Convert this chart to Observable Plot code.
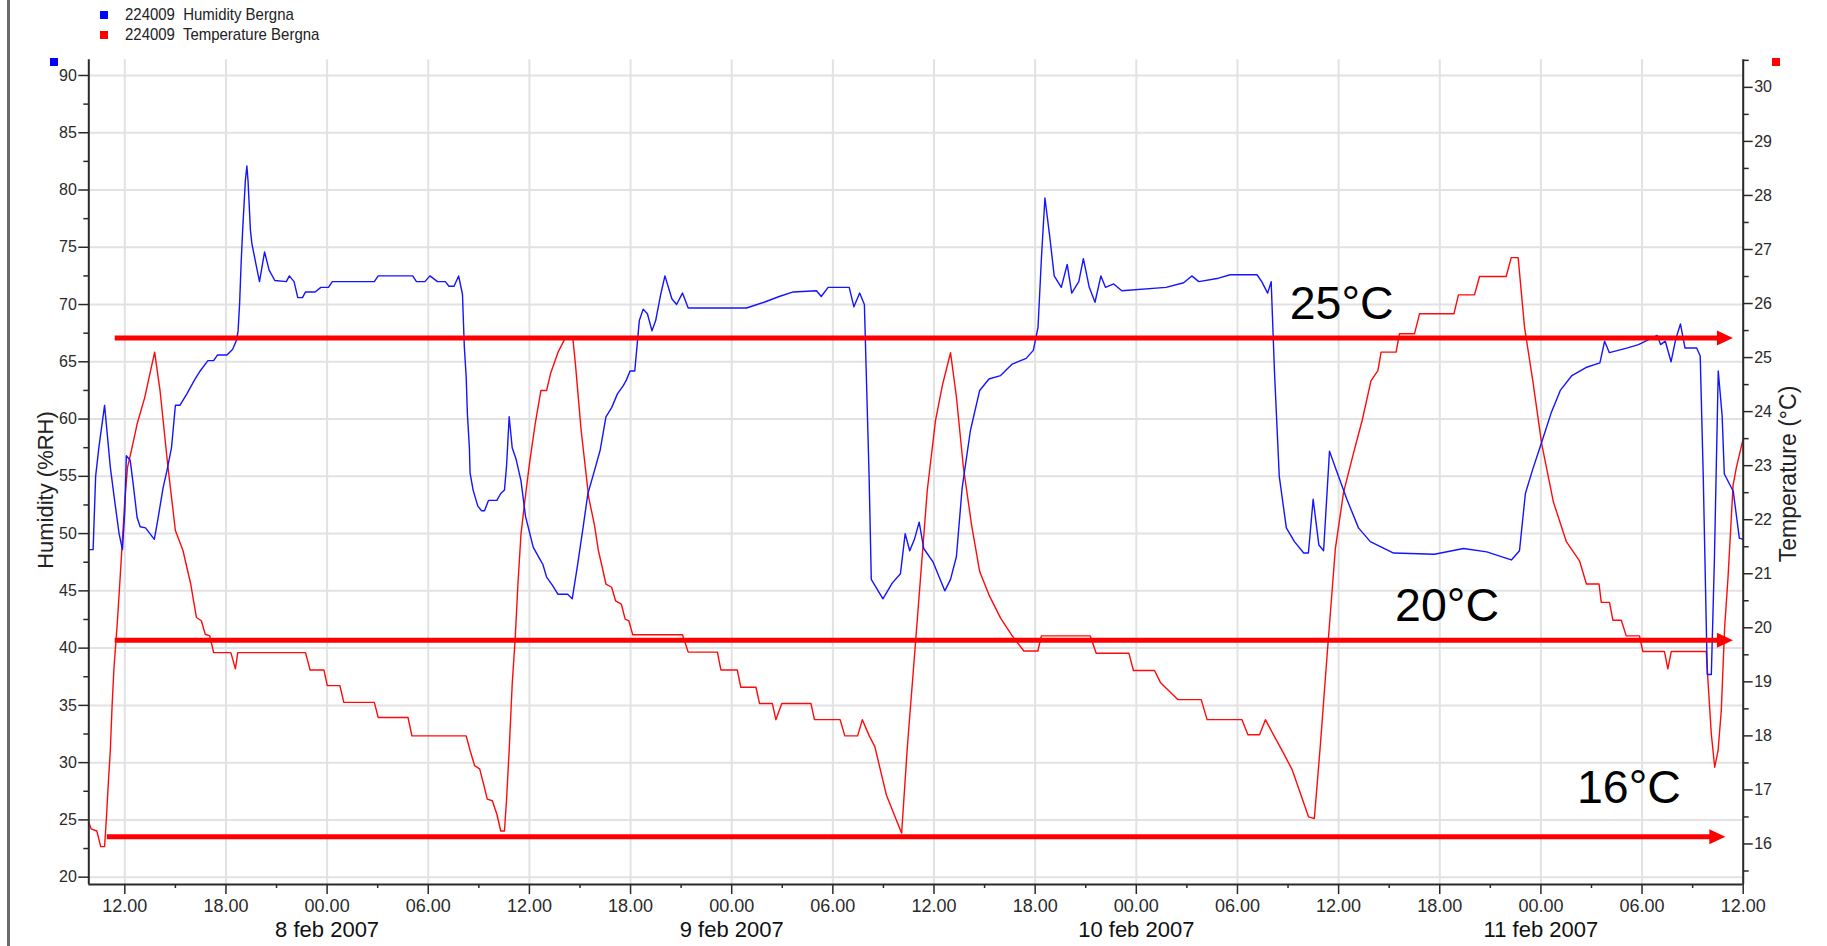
<!DOCTYPE html>
<html><head><meta charset="utf-8">
<script src="https://cdn.jsdelivr.net/npm/d3@7"></script>
<script src="https://cdn.jsdelivr.net/npm/@observablehq/plot@0.6"></script>
<style>
html,body{margin:0;padding:0;background:#fff}
body{width:1827px;height:946px;overflow:hidden;position:relative;font-family:"Liberation Sans",Arial,sans-serif}
#chart{position:absolute;left:0;top:0}
#border{position:absolute;left:7px;top:0;width:3px;height:946px;background:#6a6a6a}
.leg{position:absolute;left:100px;height:20px;display:flex;align-items:center;white-space:pre;font-size:17px;color:#222}
.leg .sw{display:inline-block;width:8px;height:8px;margin-right:17px}
.leg .lt{display:inline-block;transform:scaleX(0.88);transform-origin:left center}
.mk{position:absolute;width:8px;height:8px}
.ytitle{position:absolute;white-space:nowrap;color:#222;transform:translate(-50%,-50%) rotate(-90deg);line-height:1}
</style></head><body>
<div id="border"></div>
<div class="leg" style="top:5px"><span class="sw" style="background:#0000ff"></span><span class="lt">224009  Humidity Bergna</span></div>
<div class="leg" style="top:25px"><span class="sw" style="background:#ff0000"></span><span class="lt">224009  Temperature Bergna</span></div>
<div class="mk" style="left:50px;top:58px;background:#0000ff"></div>
<div class="mk" style="left:1772px;top:58px;background:#ff0000"></div>
<div id="chart"></div>
<div class="ytitle" style="left:46px;top:490px;font-size:22px">Humidity (%RH)</div>
<div class="ytitle" style="left:1788px;top:474px;font-size:23px">Temperature (°C)</div>
<script>
// ---- data (time = hours since 7 feb 2007 00:00) ----
const humHours = [9.86,10.12,10.27,10.46,10.80,11.14,11.36,11.66,11.86,12.0,12.09,12.32,12.5,12.73,12.91,13.23,13.75,13.98,14.27,14.5,14.77,15.0,15.27,15.68,16.13,16.47,16.93,17.27,17.5,18.06,18.4,18.63,18.72,18.81,18.9,18.99,19.15,19.24,19.31,19.45,19.54,19.77,19.99,20.29,20.56,20.9,21.58,21.76,22.04,22.26,22.54,22.72,23.29,23.63,24.08,24.31,26.8,27.03,29.08,29.3,29.8,30.1,30.55,31.01,31.23,31.53,31.8,32.03,32.07,32.14,32.25,32.32,32.44,32.48,32.66,32.94,33.16,33.34,33.57,34.07,34.3,34.52,34.64,34.8,34.98,35.21,35.5,35.77,36.23,36.57,36.8,37.02,37.36,37.7,38.27,38.54,38.84,39.18,39.47,39.86,40.2,40.54,40.88,41.22,41.56,41.75,41.97,42.25,42.38,42.52,42.75,43.0,43.27,43.49,43.79,44.04,44.45,44.73,45.08,45.42,48.88,49.92,50.82,51.65,53.03,53.31,53.72,54.97,55.25,55.59,55.87,56.15,56.28,56.97,57.53,58.01,58.29,58.56,58.84,59.12,59.39,59.95,60.64,60.98,61.33,61.67,62.16,62.71,63.26,63.95,64.64,65.47,65.89,66.17,66.37,66.58,66.86,67.13,67.55,67.9,68.17,68.59,68.86,69.21,69.55,69.9,70.17,70.66,71.14,73.77,74.81,75.29,75.71,76.88,77.57,79.16,79.44,79.79,80.0,80.2,80.48,80.9,81.38,81.93,82.21,82.49,82.83,83.11,83.46,83.87,84.49,85.18,85.88,86.57,87.26,89.68,91.41,92.79,93.83,94.25,94.73,95.08,95.49,96.05,96.6,97.15,97.84,98.67,99.5,99.78,100.06,101.09,101.79,102.48,102.9,103.1,103.38,103.72,104.0,104.28,104.55,105.24,105.45,105.63,105.87,106.11,106.29,106.52,106.75,106.88,107.41,107.77,108];
const humValues = [48.6,48.6,55,57.5,61.2,55.8,53.3,50,48.6,52,56.8,56.4,54.3,51.4,50.6,50.5,49.5,51.4,54,55.5,57.5,61.2,61.2,62.2,63.4,64.2,65.1,65.1,65.6,65.6,66.1,66.9,67.7,70.1,73.6,76.5,80.8,82.1,80.8,76.5,75.3,73.6,72.0,74.6,73.0,72.1,72.0,72.5,72.0,70.6,70.6,71.1,71.1,71.5,71.5,72.0,72.0,72.5,72.5,72.0,72.0,72.5,72.0,72.0,71.6,71.6,72.5,70.9,69.2,66.3,63.7,60.5,57.5,55.3,53.8,52.4,52.0,52.0,52.9,52.9,53.5,53.8,55.8,60.2,57.5,56.5,54.6,51.5,48.8,47.9,47.3,46.2,45.5,44.7,44.7,44.3,47.1,50.5,53.5,55.5,57.3,60.2,61.0,62.2,62.9,63.4,64.2,64.2,66.3,68.6,69.6,69.2,67.7,68.6,70.9,72.5,70.5,70.0,71.0,69.7,69.7,70.2,70.7,71.1,71.2,70.7,71.5,71.5,69.8,71.0,70.0,55,46.0,44.3,45.7,46.5,50.0,48.5,49.5,51.0,48.7,47.5,45.0,46.0,48.0,54.0,59.0,62.5,63.5,63.8,64.8,65.3,66.0,68.0,74.0,79.3,76.0,72.5,71.5,73.5,71.0,72.0,74.0,71.5,70.2,72.5,71.5,71.8,71.2,71.5,71.9,72.5,72.0,72.3,72.6,72.6,72.0,71.0,72.0,64.0,55.0,50.5,49.3,48.3,48.3,53.0,49.0,48.5,57.2,55.5,53.0,50.5,49.3,48.8,48.3,48.2,48.7,48.4,47.9,47.7,48.5,53.5,55.5,58.0,60.5,62.5,63.8,64.5,64.9,66.8,65.8,66.2,66.5,67.0,67.3,66.5,66.8,65.0,67.0,68.3,66.2,66.2,65.5,55,37.7,37.7,47.6,64.2,60.3,55.2,53.7,49.6,49.5];

const tempHours = [9.86,10.0,10.34,10.46,10.57,10.8,10.91,11.02,11.14,11.25,11.36,11.55,11.7,11.82,12.0,12.16,12.39,12.73,13.18,13.77,14.09,14.54,15.0,15.45,15.91,16.25,16.54,16.77,17.04,17.27,18.29,18.4,18.56,18.7,22.72,22.99,23.81,24.01,24.76,24.99,26.8,27.03,28.8,29.03,32.25,32.48,32.75,33.05,33.28,33.5,33.8,34.07,34.3,34.52,34.64,34.8,34.98,35.16,35.32,35.5,35.73,36.0,36.34,36.68,37.02,37.25,37.7,38.16,38.57,38.73,39.07,39.52,39.86,40.09,40.32,40.54,40.88,41.11,41.45,41.68,41.9,42.13,45.08,45.42,47.15,47.36,48.33,48.54,49.44,49.65,50.41,50.62,50.97,52.7,52.91,54.43,54.71,55.47,55.75,56.16,56.49,57.18,58.08,58.42,58.91,59.6,60.09,60.5,60.98,61.33,61.74,62.23,62.71,63.26,63.95,64.64,65.33,66.16,66.37,69.27,69.62,71.56,71.83,73.08,73.43,74.47,75.85,76.2,78.27,78.62,79.31,79.66,80.14,80.7,81.25,81.73,82.22,82.56,82.91,83.32,83.81,84.29,84.85,85.4,85.92,86.33,86.52,87.41,87.61,88.5,88.8,90.84,91.11,92.06,92.36,93.94,94.24,94.65,95.03,95.52,96.05,96.74,97.5,98.29,98.7,99.45,99.58,100.07,100.27,100.77,101.06,101.85,102.05,103.33,103.53,103.73,105.81,105.91,106.11,106.31,106.51,106.7,106.9,107.1,107.4,107.59,108];
const tempValues = [16.4,16.28,16.24,16.09,15.95,15.95,16.49,17.11,17.73,18.59,19.27,20.07,20.81,21.43,22.35,22.97,23.28,23.77,24.26,25.1,24.39,23.03,21.8,21.43,20.81,20.19,20.13,19.88,19.85,19.54,19.54,19.42,19.24,19.54,19.54,19.22,19.22,18.93,18.93,18.62,18.62,18.34,18.34,18.0,18.0,17.73,17.45,17.39,17.11,16.83,16.8,16.55,16.24,16.24,16.8,17.73,18.96,19.82,20.81,21.73,22.35,23.03,23.77,24.39,24.39,24.7,25.1,25.38,25.38,24.88,23.65,22.41,21.9,21.43,21.12,20.81,20.75,20.5,20.44,20.16,20.13,19.87,19.87,19.55,19.55,19.22,19.22,18.9,18.9,18.6,18.6,18.3,18.6,18.6,18.3,18.3,18.0,18.0,18.3,18.0,17.8,16.9,16.2,17.8,19.75,22.54,23.84,24.49,25.09,24.27,22.98,21.9,21.04,20.61,20.18,19.85,19.57,19.57,19.85,19.85,19.53,19.53,19.21,19.21,18.99,18.67,18.67,18.3,18.3,18.02,18.02,18.3,18.02,17.7,17.37,16.94,16.5,16.47,17.8,19.5,21.47,22.5,23.19,23.84,24.57,24.76,25.1,25.1,25.44,25.44,25.81,25.81,26.16,26.16,26.5,26.5,26.85,26.85,25.56,24.57,23.4,22.33,21.6,21.24,20.81,20.81,20.47,20.47,20.14,20.14,19.85,19.85,19.56,19.56,19.24,19.56,19.56,19.02,18.03,17.42,17.73,18.47,20.01,20.93,22.64,22.96,23.5];

// annotation arrows (temperature levels)
const arrowTemps = [25.36, 19.77, 16.135];
const arrowStartHours = [11.43, 11.43, 10.96];
const arrowTipHours = [107.39, 107.39, 106.94];
const labelTexts = ["25°C", "20°C", "16°C"];
const labelHours = [81.10, 87.35, 98.14];
const labelTemps = [25.71, 20.13, 16.76];

// axis ticks
const humTicks = [20,25,30,35,40,45,50,55,60,65,70,75,80,85,90];
const humMinorTicks = [22.5,27.5,32.5,37.5,42.5,47.5,52.5,57.5,62.5,67.5,72.5,77.5,82.5,87.5];
const tempTicks = [16,17,18,19,20,21,22,23,24,25,26,27,28,29,30];
const tempMinorTicks = [15.5,16.5,17.5,18.5,19.5,20.5,21.5,22.5,23.5,24.5,25.5,26.5,27.5,28.5,29.5,30.5];
const hourTicks = [12,18,24,30,36,42,48,54,60,66,72,78,84,90,96,102,108];
const hourMinorTicks = [15,21,27,33,39,45,51,57,63,69,75,81,87,93,99,105];
const dayHours = [24,48,72,96];
const dayLabels = ["8 feb 2007","9 feb 2007","10 feb 2007","11 feb 2007"];

// scale extents
const humDomain = [19.36, 91.37];
const tempDomain = [15.25, 30.51];
const timeDomainHours = [9.864, 108];

// ---- build ----
const t0 = Date.UTC(2007, 1, 7);
const toDate = h => new Date(t0 + h * 3600e3);
const kT = (humDomain[1] - humDomain[0]) / (tempDomain[1] - tempDomain[0]);
const toH = T => humDomain[0] + (T - tempDomain[0]) * kT;
const toT = H => tempDomain[0] + (H - humDomain[0]) / kT;

const hum = humHours.map((h, i) => ({t: toDate(h), v: humValues[i]}));
const temp = tempHours.map((h, i) => ({t: toDate(h), v: toH(tempValues[i])}));
const arrows = arrowTemps.map((T, i) => ({
  x1: toDate(arrowStartHours[i]), x2: toDate(arrowTipHours[i] - 0.55),
  tip: toDate(arrowTipHours[i]), y: toH(T)
}));
const labels = labelTexts.map((s, i) => ({t: toDate(labelHours[i]), v: toH(labelTemps[i]), s}));
const days = dayHours.map((h, i) => ({t: toDate(h), s: dayLabels[i]}));

const narrow = "'Liberation Sans Narrow','Arial Narrow','Liberation Sans',Arial,sans-serif";
const sans = "'Liberation Sans',Arial,sans-serif";
const axisColor = "#2a2a2a";

const chart = Plot.plot({
  width: 1827, height: 946,
  marginLeft: 88.3, marginRight: 84.3, marginTop: 59.3, marginBottom: 62,
  x: {type: "utc", domain: timeDomainHours.map(toDate), label: null},
  y: {domain: humDomain, label: null},
  style: {fontFamily: sans, color: axisColor, background: "transparent", overflow: "visible"},
  marks: [
    Plot.gridY(humTicks, {stroke: "#e2e2e2", strokeOpacity: 1, strokeWidth: 2}),
    Plot.gridX(hourTicks.map(toDate), {stroke: "#e2e2e2", strokeOpacity: 1, strokeWidth: 2}),
    Plot.line(temp, {x: "t", y: "v", stroke: "#ff0a0a", strokeWidth: 1.4}),
    Plot.line(hum, {x: "t", y: "v", stroke: "#1414ff", strokeWidth: 1.4}),
    Plot.ruleY(arrows, {x1: "x1", x2: "x2", y: "y", stroke: "#ff0000", strokeWidth: 5}),
    Plot.vector(arrows, {x: "tip", y: "y", rotate: 90, length: 16, shape: "spike", r: 7.5, anchor: "end", fill: "#ff0000", stroke: "none"}),
    Plot.text(labels, {x: "t", y: "v", text: "s", textAnchor: "start", lineAnchor: "bottom", fontSize: 46.5, fill: "#000", fontFamily: sans}),
    // axis lines
    Plot.ruleX([toDate(timeDomainHours[0])], {stroke: axisColor, strokeWidth: 2}),
    Plot.ruleX([toDate(timeDomainHours[1])], {stroke: axisColor, strokeWidth: 2}),
    Plot.ruleY([humDomain[0]], {stroke: axisColor, strokeWidth: 2}),
    // left axis
    Plot.axisY(humTicks, {anchor: "left", tickSize: 10, tickPadding: 2, fontSize: 16, strokeWidth: 1.5, tickFormat: d => String(d), label: null}),
    Plot.axisY(humMinorTicks, {anchor: "left", tickSize: 5, strokeWidth: 1.5, text: null, label: null}),
    // right axis (temperature)
    Plot.axisY(tempTicks.map(toH), {anchor: "right", tickSize: 9, tickPadding: 2, fontSize: 16, strokeWidth: 1.5, tickFormat: d => String(Math.round(toT(d))), label: null}),
    Plot.axisY(tempMinorTicks.map(toH), {anchor: "right", tickSize: 5, strokeWidth: 1.5, text: null, label: null}),
    // x axis
    Plot.axisX(hourTicks.map(toDate), {anchor: "bottom", tickSize: 10, tickPadding: 5, fontSize: 18, fontFamily: narrow, strokeWidth: 1.5, tickFormat: d3.utcFormat("%H.%M"), label: null}),
    Plot.axisX(hourMinorTicks.map(toDate), {anchor: "bottom", tickSize: 4, strokeWidth: 1.5, text: null, label: null}),
    Plot.text(days, {x: "t", text: "s", frameAnchor: "bottom", dy: 52.7, lineAnchor: "bottom", fontSize: 22, fill: "#111", fontFamily: narrow})
  ]
});
document.getElementById("chart").appendChild(chart);
</script>
</body></html>
